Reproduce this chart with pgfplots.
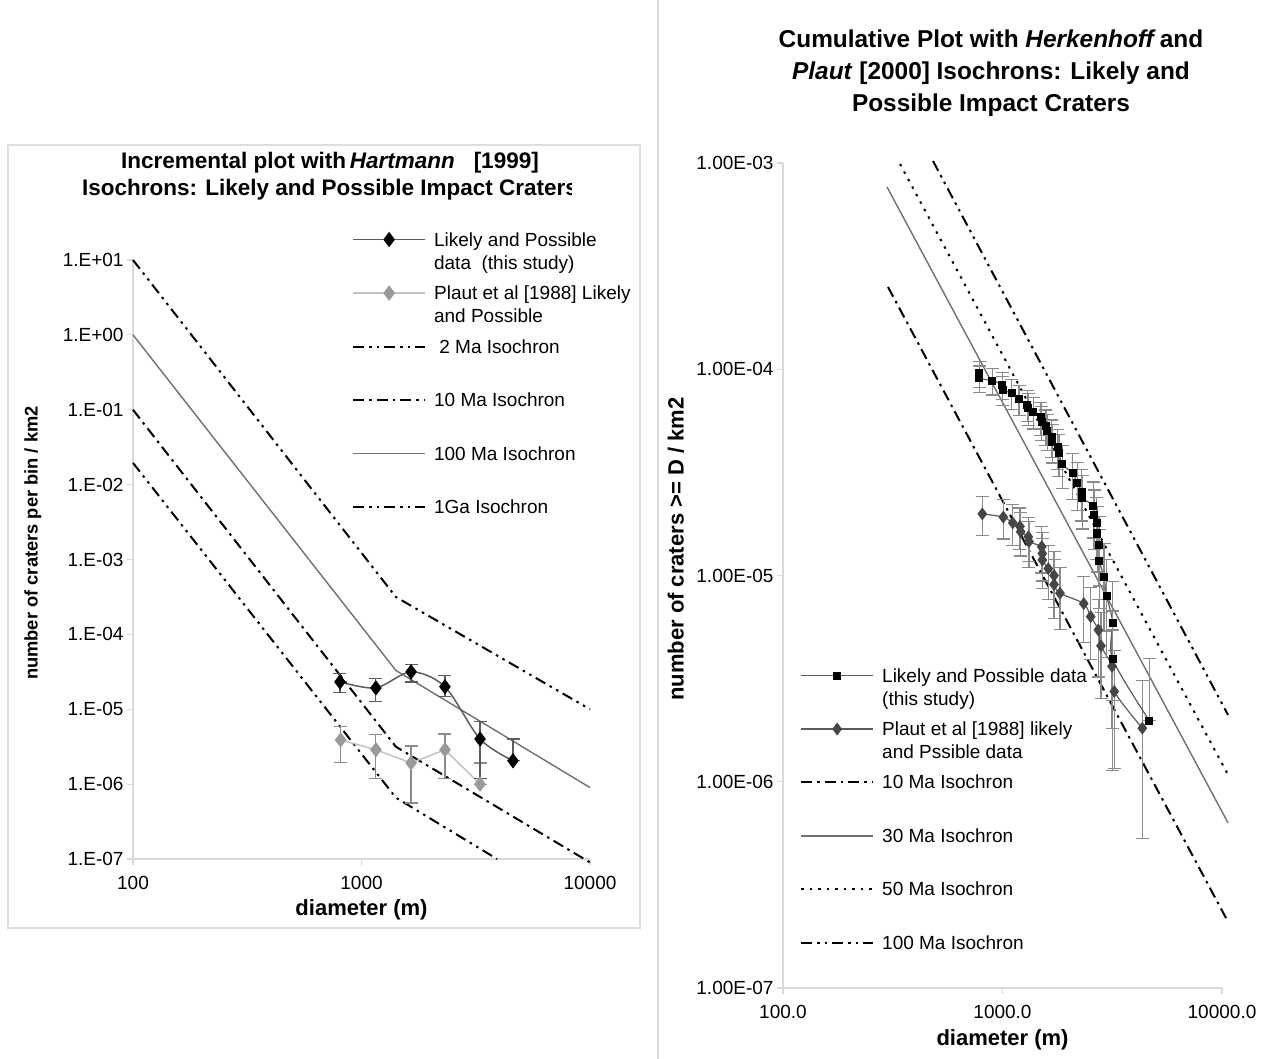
\documentclass[border=0pt]{standalone}
\usepackage{fontspec}
\setmainfont{Liberation Sans}
\usepackage{pgfplots}
\usepackage{pgfplotstable}
\pgfplotsset{compat=1.18}

\definecolor{axgray}{HTML}{D9D9D9}
\definecolor{framegray}{HTML}{DDDDDD}
\definecolor{isogray}{HTML}{707070}
\definecolor{errgray}{HTML}{8A8A8A}
\definecolor{plautlight}{HTML}{C2C2C2}
\definecolor{plautmark}{HTML}{9A9A9A}
\definecolor{plautdark}{HTML}{464646}
\definecolor{linedark}{HTML}{5C5C5C}

\tikzset{
  ddd/.style={black, line width=2pt, dash pattern=on 11pt off 5pt on 2.5pt off 5pt on 2.5pt off 5pt},
  dd/.style={black, line width=2pt, dash pattern=on 11pt off 5pt on 2.5pt off 5pt},
  dotline/.style={black, line width=2pt, dash pattern=on 2.5pt off 6pt},
  soliso/.style={isogray, line width=1.4pt, solid},
}

\newcommand{\tickfont}{\fontsize{19}{22}\selectfont}
\newcommand{\legfont}{\fontsize{19}{23}\selectfont}
\newcommand{\labfont}{\fontsize{22}{26}\selectfont\bfseries}
\newcommand{\lt}[1]{\parbox[t]{240pt}{\raggedright #1}}

% ---------- left panel data (incremental) ----------
\pgfplotstableread{
x y ep em
805 2.32e-5 0.70e-5 0.66e-5
1156 1.93e-5 0.62e-5 0.67e-5
1648 3.16e-5 0.76e-5 0.84e-5
2318 2.00e-5 0.80e-5 0.53e-5
3303 4.00e-6 2.80e-6 2.80e-6
4603 2.05e-6 1.95e-6 0
}\leftlikely
\pgfplotstableread{
x y ep em
810 3.90e-6 1.95e-6 1.95e-6
1156 2.88e-6 1.75e-6 1.68e-6
1648 1.92e-6 1.32e-6 1.36e-6
2318 2.88e-6 1.79e-6 1.68e-6
3303 1.00e-6 0.92e-6 0
}\leftplaut

% ---------- right panel data (cumulative) ----------
\pgfplotstableread{
x y ep em
784 9.56e-5 1.37e-5 1.37e-5
784 9.04e-5 1.34e-5 1.34e-5
898 8.81e-5 1.31e-5 1.31e-5
998 8.39e-5 1.28e-5 1.28e-5
1002 7.94e-5 1.25e-5 1.25e-5
1101 7.65e-5 1.24e-5 1.24e-5
1189 7.15e-5 1.19e-5 1.19e-5
1297 6.71e-5 1.15e-5 1.15e-5
1311 6.47e-5 1.14e-5 1.14e-5
1381 6.23e-5 1.10e-5 1.10e-5
1497 5.85e-5 1.08e-5 1.08e-5
1509 5.57e-5 1.05e-5 1.05e-5
1578 5.31e-5 1.03e-5 1.03e-5
1600 5.04e-5 0.99e-5 0.99e-5
1675 4.71e-5 0.97e-5 0.97e-5
1686 4.46e-5 0.95e-5 0.95e-5
1784 4.19e-5 0.91e-5 0.91e-5
1808 3.92e-5 0.89e-5 0.89e-5
1873 3.46e-5 0.82e-5 0.82e-5
2089 3.13e-5 0.79e-5 0.79e-5
2192 2.80e-5 0.74e-5 0.74e-5
2296 2.55e-5 0.71e-5 0.71e-5
2310 2.37e-5 0.69e-5 0.69e-5
2593 2.18e-5 0.66e-5 0.66e-5
2612 1.97e-5 0.63e-5 0.63e-5
2687 1.79e-5 0.59e-5 0.59e-5
2704 1.60e-5 0.56e-5 0.56e-5
2752 1.41e-5 0.52e-5 0.52e-5
2761 1.18e-5 0.485e-5 0.485e-5
2900 9.81e-6 4.43e-6 4.43e-6
2984 7.96e-6 3.96e-6 3.96e-6
3177 5.91e-6 3.43e-6 3.43e-6
3177 3.93e-6 2.80e-6 2.80e-6
4665 1.98e-6 1.98e-6 0
}\rightlikely
\pgfplotstableread{
x y ep em
809 1.99e-5 4.27e-6 4.27e-6
1008 1.92e-5 4.17e-6 4.17e-6
1113 1.80e-5 4.07e-6 4.07e-6
1201 1.73e-5 3.97e-6 3.97e-6
1210 1.63e-5 3.86e-6 3.86e-6
1311 1.54e-5 3.75e-6 3.75e-6
1320 1.46e-5 3.64e-6 3.64e-6
1509 1.38e-5 3.52e-6 3.52e-6
1518 1.28e-5 3.40e-6 3.40e-6
1518 1.19e-5 3.28e-6 3.28e-6
1617 1.08e-5 3.15e-6 3.15e-6
1717 1.00e-5 3.02e-6 3.02e-6
1717 9.05e-6 2.88e-6 2.88e-6
1828 8.21e-6 2.73e-6 2.73e-6
2344 7.31e-6 2.57e-6 2.57e-6
2522 6.32e-6 2.41e-6 2.41e-6
2732 5.45e-6 2.23e-6 2.23e-6
2810 4.56e-6 2.03e-6 2.03e-6
3154 3.63e-6 1.82e-6 1.82e-6
3231 2.74e-6 1.58e-6 1.58e-6
4335 1.82e-6 1.29e-6 1.29e-6
}\rightplaut

\begin{document}
\begin{tikzpicture}
\useasboundingbox (0pt,0pt) rectangle (1279pt,-1058pt);
\fill[white] (0pt,0pt) rectangle (1279pt,-1058pt);
% panel frames
\draw[framegray, line width=1.2pt] (8pt,-145pt) rectangle (640pt,-928pt);
\draw[framegray, line width=1.2pt] (658pt,10pt) rectangle (1300pt,-1070pt);

% titles
\begin{scope}
\clip (0pt,0pt) rectangle (571pt,-1058pt);
\node[font=\fontsize{22.5}{27}\selectfont\bfseries, align=center] at (330pt,-176pt)
  {Incremental plot with\,\textit{Hartmann}\ \ \ [1999]\\Isochrons: Likely and Possible Impact Craters};
\end{scope}
\node[font=\fontsize{24.4}{32}\selectfont\bfseries, align=center] at (991pt,-73pt)
  {Cumulative Plot with \textit{Herkenhoff}\,and\\\textit{Plaut} [2000] Isochrons: Likely and\\Possible Impact Craters};

% ================= LEFT AXIS =================
\begin{axis}[
  scale only axis, xmode=log, ymode=log,
  at={(133pt,-859pt)}, anchor=south west, width=457pt, height=599pt,
  axis x line*=bottom, axis y line*=left,
  axis line style={axgray, line width=1.2pt},
  tick style={axgray, line width=1.2pt},
  tick align=outside, major tick length=6pt,
  xminorticks=false, yminorticks=false,
  tick label style={font=\tickfont},
  label style={font=\labfont},
  clip=false,
  xmin=100, xmax=10000, ymin=1e-7, ymax=10,
  xtick={100,1000,10000}, xticklabels={100,1000,10000},
  ytick={1e-7,1e-6,1e-5,1e-4,1e-3,1e-2,1e-1,1,10},
  yticklabels={1.E-07,1.E-06,1.E-05,1.E-04,1.E-03,1.E-02,1.E-01,1.E+00,1.E+01},
  xticklabel style={yshift=-8pt},
  xlabel={diameter (m)}, ylabel={number of craters per bin / km2},
  xlabel style={at={(axis description cs:0.5,-0.085)}, anchor=center},
  ylabel style={at={(axis description cs:-0.219,0.5275)}, anchor=center, font=\fontsize{18.3}{22}\selectfont\bfseries},
  legend style={draw=none, fill=none, font=\legfont, inner sep=0pt,
      row sep=13.5pt, column sep=8pt,
      nodes={anchor=base west, inner sep=0pt, text height=14pt, text depth=26pt},
      at={(0.479,1.047)}, anchor=north west},
  legend image code/.code={\draw[mark repeat=2, mark phase=2, #1] plot coordinates {(0pt,6.5pt) (36pt,6.5pt) (72pt,6.5pt)};},
]
\addlegendimage{linedark, line width=1.5pt, mark=diamond*, mark size=6.5pt, mark options={black, solid}}
\addlegendentry{\lt{Likely and Possible\\data~ (this study)}}
\addlegendimage{plautlight, line width=1.5pt, mark=diamond*, mark size=6.5pt, mark options={plautmark, solid}}
\addlegendentry{\lt{Plaut et al [1988] Likely\\and Possible}}
\addlegendimage{ddd}
\addlegendentry{\lt{\ 2 Ma Isochron}}
\addlegendimage{dd}
\addlegendentry{\lt{10 Ma Isochron}}
\addlegendimage{soliso}
\addlegendentry{\lt{100 Ma Isochron}}
\addlegendimage{ddd}
\addlegendentry{\lt{1Ga Isochron}}

% isochrons
\addplot[ddd, forget plot] coordinates {(100,10) (1414,3.16e-4) (10000,1.0e-5)};
\addplot[soliso, forget plot] coordinates {(100,1) (1414,3.3e-5) (10000,9.0e-7)};
\addplot[dd, forget plot] coordinates {(100,0.1) (1414,3.16e-6) (10000,9.0e-8)};
\addplot[ddd, forget plot] coordinates {(100,1.95e-2) (1414,6.6e-7) (3922,1e-7)};

% data
\addplot[plautlight, line width=1.5pt, mark=diamond*, mark size=6.5pt, mark options={plautmark, solid}, forget plot,
  error bars/.cd, y dir=both, y explicit,
  error bar style={errgray, line width=1.2pt, solid},
  error mark options={errgray, line width=1.2pt, mark size=6.5pt, rotate=90}]
  table[x=x, y=y, y error plus=ep, y error minus=em] {\leftplaut};
\addplot[linedark, line width=1.5pt, smooth, mark=diamond*, mark size=6.5pt, mark options={black, solid}, forget plot,
  error bars/.cd, y dir=both, y explicit,
  error bar style={linedark, line width=1.2pt, solid},
  error mark options={linedark, line width=1.2pt, mark size=6.5pt, rotate=90}]
  table[x=x, y=y, y error plus=ep, y error minus=em] {\leftlikely};
\end{axis}

% ================= RIGHT AXIS =================
\begin{axis}[
  scale only axis, xmode=log, ymode=log,
  at={(783pt,-988pt)}, anchor=south west, width=439pt, height=825pt,
  axis x line*=bottom, axis y line*=left,
  axis line style={axgray, line width=1.2pt},
  tick style={axgray, line width=1.2pt},
  tick align=outside, major tick length=6pt,
  xminorticks=false, yminorticks=false,
  tick label style={font=\tickfont},
  label style={font=\labfont},
  clip=false,
  xmin=100, xmax=10000, ymin=1e-7, ymax=1e-3,
  xtick={100,1000,10000}, xticklabels={100.0,1000.0,10000.0},
  ytick={1e-7,1e-6,1e-5,1e-4,1e-3},
  yticklabels={1.00E-07,1.00E-06,1.00E-05,1.00E-04,1.00E-03},
  xticklabel style={yshift=-8pt},
  xlabel={diameter (m)}, ylabel={number of craters >= D / km2},
  xlabel style={at={(axis description cs:0.5,-0.063)}, anchor=center},
  ylabel style={at={(axis description cs:-0.244,0.532)}, anchor=center},
  legend style={draw=none, fill=none, font=\legfont, inner sep=0pt,
      row sep=13.4pt, column sep=8pt,
      nodes={anchor=base west, inner sep=0pt, text height=14pt, text depth=26pt},
      at={(0.0387,0.388)}, anchor=north west},
  legend image code/.code={\draw[mark repeat=2, mark phase=2, #1] plot coordinates {(0pt,6.5pt) (36pt,6.5pt) (72pt,6.5pt)};},
]
\addlegendimage{linedark, line width=1.2pt, mark=square*, mark size=3.5pt, mark options={black, solid}}
\addlegendentry{\lt{Likely and Possible data\\(this study)}}
\addlegendimage{linedark, line width=1.2pt, mark=diamond*, mark size=5.5pt, mark options={plautdark, solid}}
\addlegendentry{\lt{Plaut et al [1988] likely\\and Pssible data}}
\addlegendimage{dd}
\addlegendentry{\lt{10 Ma Isochron}}
\addlegendimage{soliso}
\addlegendentry{\lt{30 Ma Isochron}}
\addlegendimage{dotline}
\addlegendentry{\lt{50 Ma Isochron}}
\addlegendimage{ddd}
\addlegendentry{\lt{100 Ma Isochron}}

% isochrons
\addplot[ddd, forget plot] coordinates {(482.4,1.022e-3) (10650,2.11e-6)};
\addplot[dotline, forget plot] coordinates {(341.4,9.89e-4) (10540,1.104e-6)};
\addplot[soliso, forget plot] coordinates {(297.8,7.65e-4) (10650,6.32e-7)};
\addplot[dd, forget plot] coordinates {(300.8,2.506e-4) (10540,2.14e-7)};

% data
\addplot[linedark, line width=1.2pt, smooth, mark=diamond*, mark size=5.5pt, mark options={plautdark, solid}, forget plot,
  error bars/.cd, y dir=both, y explicit,
  error bar style={errgray, line width=1.2pt, solid},
  error mark options={errgray, line width=1.2pt, mark size=6.5pt, rotate=90}]
  table[x=x, y=y, y error plus=ep, y error minus=em] {\rightplaut};
\addplot[linedark, line width=1.2pt, smooth, mark=square*, mark size=3.5pt, mark options={black, solid}, forget plot,
  error bars/.cd, y dir=both, y explicit,
  error bar style={errgray, line width=1.2pt, solid},
  error mark options={errgray, line width=1.2pt, mark size=6.5pt, rotate=90}]
  table[x=x, y=y, y error plus=ep, y error minus=em] {\rightlikely};
\end{axis}
\end{tikzpicture}
\end{document}
